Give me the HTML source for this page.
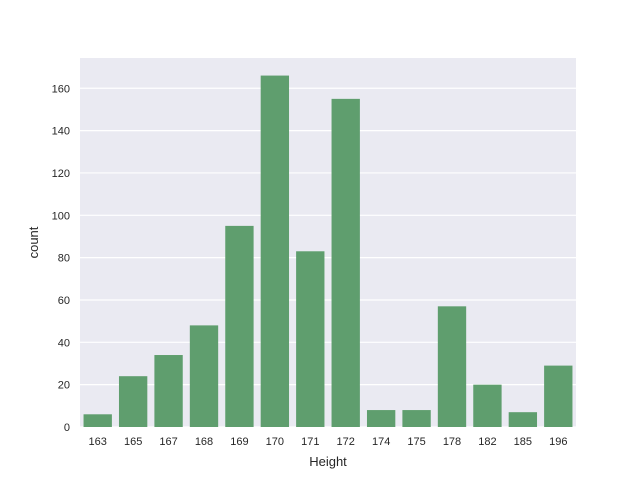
<!DOCTYPE html>
<html><head><meta charset="utf-8"><style>
html,body{margin:0;padding:0;background:#fff;}
svg{display:block;font-family:"Liberation Sans","DejaVu Sans",sans-serif;}
</style></head><body>
<svg id="chart" width="640" height="480" viewBox="0 0 640 480">
<rect x="80" y="58" width="496" height="369" fill="#eaeaf2"/>
<g id="grid"></g><g id="bars"></g><g id="yticks"></g><g id="xticks"></g>
<text x="328" y="466" text-anchor="middle" font-size="13" fill="#262626">Height</text>
<text transform="translate(38,242.5) rotate(-90)" text-anchor="middle" font-size="13" fill="#262626">count</text>
</svg>
<script>
const categories = ["163","165","167","168","169","170","171","172","174","175","178","182","185","196"];
const counts = [6,24,34,48,95,166,83,155,8,8,57,20,7,29];
const yTicks = [0,20,40,60,80,100,120,140,160];
const NS="http://www.w3.org/2000/svg";
const L=80,R=576,T=58,B=427;
const yMax=Math.max(...counts)*1.05;
const y=v=>B-(v/yMax)*(B-T);
const step=(R-L)/categories.length;
const x=i=>L+step*i;
function mk(tag,attrs,parent){const e=document.createElementNS(NS,tag);for(const k in attrs)e.setAttribute(k,attrs[k]);document.getElementById(parent).appendChild(e);return e;}
yTicks.forEach(t=>{
  const g=mk("line",{x1:L,x2:R,y1:y(t),y2:y(t),stroke:"#fff","stroke-width":1.2},"grid");
  
  
  const tx=mk("text",{x:L-10,y:y(t)+4,"text-anchor":"end","font-size":11,fill:"#262626"},"yticks");
  tx.textContent=t;
  
  
});
categories.forEach((c,i)=>{
  const bw=step*0.8;
  const r=mk("rect",{x:x(i)+step*0.1,y:y(counts[i]),width:bw,height:B-y(counts[i]),fill:"#5f9e6e"},"bars");
  
  
  const tx=mk("text",{x:x(i)+step/2,y:B+18,"text-anchor":"middle","font-size":11,fill:"#262626"},"xticks");
  tx.textContent=c;
  
  
});
</script>
</body></html>
